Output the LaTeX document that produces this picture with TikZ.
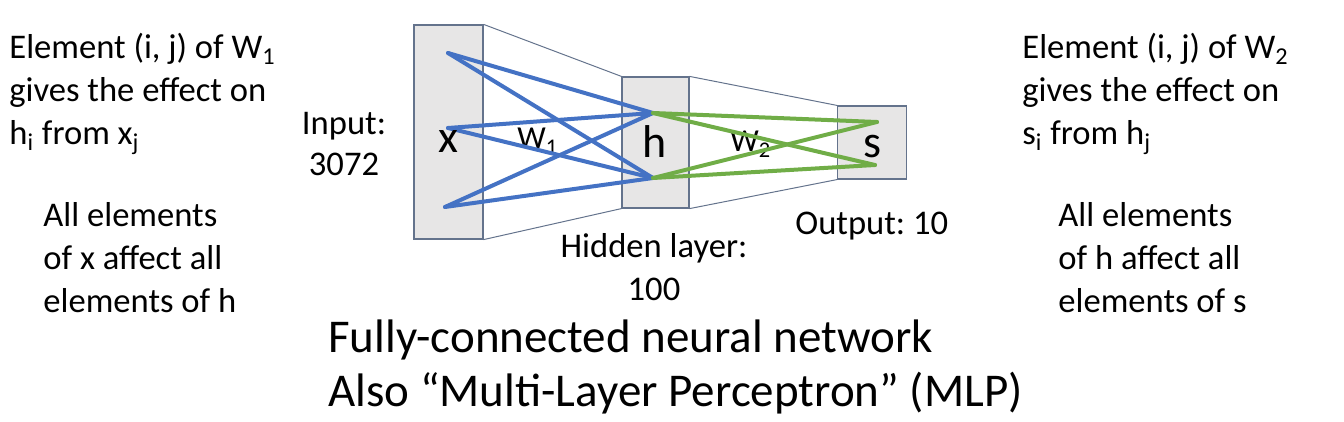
\documentclass[tikz,border=0pt]{standalone}
\usepackage{fontspec}
\setmainfont{Carlito}
\frenchspacing
\definecolor{wblue}{HTML}{4472C4}
\definecolor{wgreen}{HTML}{70AD47}
\definecolor{boxfill}{HTML}{E7E6E6}
\definecolor{boxline}{RGB}{100,115,140}
\newcommand{\txtsize}{\fontsize{17.3}{21.5}\selectfont}
\newcommand{\bigsize}{\fontsize{23}{27}\selectfont}
\begin{document}
\begin{tikzpicture}[x=0.5pt,y=-0.5pt,
  layer/.style={draw=boxline,fill=boxfill,line width=0.6pt,inner sep=0pt},
  side/.style={draw=boxline,line width=0.5pt},
  wone/.style={wblue,line width=2pt,line cap=round},
  wtwo/.style={wgreen,line width=2pt,line cap=round},
  txt/.style={inner sep=0pt,font=\txtsize,align=left},
  wlab/.style={inner sep=0pt,font=\fontsize{16}{18}\selectfont,anchor=base west},
  big/.style={inner sep=0pt,font=\bigsize,anchor=base}]
\useasboundingbox (0,0) rectangle (1344,422);
\node[layer,minimum width=34.5pt,minimum height=107pt] (X) at (448.5,132) {};
\node[layer,minimum width=33.5pt,minimum height=65.5pt] (H) at (655.5,142.5) {};
\node[layer,minimum width=34.5pt,minimum height=36.5pt] (S) at (872,142.5) {};
\draw[side] (X.north east) -- (H.north west);
\draw[side] (X.south east) -- (H.south west);
\draw[side] (H.north east) -- (S.north west);
\draw[side] (H.south east) -- (S.south west);
\node[wlab] (W1) at (517,149) {W\textsubscript{1}};
\node[wlab] (W2) at (730,152) {W\textsubscript{2}};
\coordinate (x1) at (448,53);
\coordinate (x2) at (448,128);
\coordinate (x3) at (445,207);
\coordinate (h1) at (653,113);
\coordinate (h2) at (653,178);
\coordinate (s1) at (877,122);
\coordinate (s2) at (875,165);
\foreach \a in {x1,x2,x3} \foreach \b in {h1,h2} \draw[wone] (\a) -- (\b);
\foreach \a in {h1,h2} \foreach \b in {s1,s2} \draw[wtwo] (\a) -- (\b);
\node[big] (xl) at (448,153) {x};
\node[big] (hl) at (655,158) {h};
\node[big] (sl) at (872,158) {s};
\node[txt,anchor=base west] (effw1) at (9,145) {Element (i, j) of W\textsubscript{1}\\gives the effect on\\h\textsubscript{i} from x\textsubscript{j}};
\node[txt,anchor=base west] (allx) at (43,313) {All elements\\of x affect all\\elements of h};
\node[txt,anchor=base west] (effw2) at (1022,145) {Element (i, j) of W\textsubscript{2}\\gives the effect on\\s\textsubscript{i} from h\textsubscript{j}};
\node[txt,anchor=base west] (allh) at (1058,313) {All elements\\of h affect all\\elements of s};
\node[txt,align=center,anchor=base,font=\fontsize{17.3}{20.5}\selectfont] (inp) at (344,176) {Input:\\3072};
\node[txt,align=center,anchor=base,font=\fontsize{17.3}{21}\selectfont] (hid) at (654,300) {Hidden layer:\\100};
\node[txt,anchor=base west] (outp) at (795,235) {Output: 10};
\node[txt,anchor=base west,font=\fontsize{23.5}{27}\selectfont] (title) at (328,406) {Fully-connected neural network\\Also “Multi-Layer Perceptron” (MLP)};
\end{tikzpicture}
\end{document}
